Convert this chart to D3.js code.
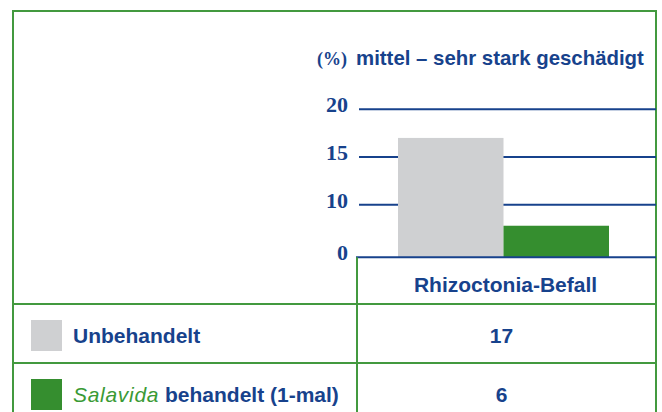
<!DOCTYPE html>
<html>
<head>
<meta charset="utf-8">
<script src="https://cdn.jsdelivr.net/npm/d3@7"></script>
<style>
  html, body { margin: 0; padding: 0; background: #fff; }
  svg { display: block; }
  .txt { font-family: "Liberation Sans Narrow", "Arial Narrow", "Liberation Sans", sans-serif; font-weight: bold; fill: #17428c; }
  .num { font-family: "Liberation Serif", serif; font-weight: bold; fill: #17428c; }
</style>
</head>
<body>
<svg id="chart" width="662" height="412"></svg>
<script>
// ---- data ----
const categories = ["Rhizoctonia-Befall"];
const seriesNames = ["Unbehandelt", "Salavida behandelt (1-mal)"];
const seriesValues = [17, 6];
const tickValues = [0, 10, 15, 20];
const yTitle = "mittel – sehr stark geschädigt";
const yUnit = "(%)";

// ---- styles ----
const blue = "#17428c";
const frameGreen = "#43993f";
const barColors = ["#cfd0d2", "#358e2f"];

const svg = d3.select("#chart");

// geometry
const fLeft = 13, fRight = 656, fTop = 11, fBottom = 412;
const colX = 357;
const plotRight = fRight;

// y scale (piecewise as in the original drawing)
const y = d3.scaleLinear().domain([0, 10, 20]).range([257.3, 204.7, 109.3]);

// x scales
const xGroup = d3.scaleBand().domain(categories).range([colX, plotRight]);
const xBar = d3.scaleBand().domain(seriesNames).range([398, 609]).padding(0);

// table rows
const rows = d3.scaleBand().domain(seriesNames).range([304, 422]);

// frame
svg.append("rect").attr("x", fLeft).attr("y", fTop)
  .attr("width", fRight - fLeft).attr("height", fBottom - fTop + 20)
  .attr("fill", "none").attr("stroke", frameGreen).attr("stroke-width", 2);

// gridlines
svg.append("g").selectAll("line").data(tickValues.filter(d => d > 0)).join("line")
  .attr("x1", 359).attr("x2", plotRight)
  .attr("y1", d => y(d)).attr("y2", d => y(d))
  .attr("stroke", blue).attr("stroke-width", 2);

// bars
svg.append("g").selectAll("rect").data(seriesValues).join("rect")
  .attr("x", (d, i) => xBar(seriesNames[i]))
  .attr("width", xBar.bandwidth())
  .attr("y", d => y(d))
  .attr("height", d => y(0) - y(d))
  .attr("fill", (d, i) => barColors[i]);

// baseline
svg.append("line").attr("x1", colX - 1).attr("x2", plotRight)
  .attr("y1", y(0)).attr("y2", y(0))
  .attr("stroke", blue).attr("stroke-width", 2);

// tick labels
svg.append("g").selectAll("text").data(tickValues).join("text")
  .attr("class", "num")
  .attr("x", 348).attr("y", d => y(d) + 3)
  .attr("text-anchor", "end")
  .attr("font-size", 22)
  .text(d => d);

// title
svg.append("text").attr("class", "txt").attr("x", 356).attr("y", 65)
  .attr("font-size", 20.4).text(yTitle);
svg.append("text").attr("class", "num").attr("x", 347).attr("y", 65)
  .attr("text-anchor", "end").attr("font-weight", "normal")
  .attr("font-size", 18).text(yUnit);

// table lines
svg.append("line").attr("x1", colX).attr("x2", colX).attr("y1", y(0)).attr("y2", fBottom + 10)
  .attr("stroke", frameGreen).attr("stroke-width", 2);
svg.append("g").selectAll("line").data(seriesNames).join("line")
  .attr("x1", fLeft).attr("x2", fRight)
  .attr("y1", d => rows(d)).attr("y2", d => rows(d))
  .attr("stroke", frameGreen).attr("stroke-width", 2);

// category header
svg.append("g").selectAll("text").data(categories).join("text")
  .attr("class", "txt")
  .attr("x", d => xGroup(d) + xGroup.bandwidth() / 2 - 1)
  .attr("y", 291.5)
  .attr("text-anchor", "middle")
  .attr("font-size", 21)
  .text(d => d);

// legend rows
const rowG = svg.append("g").selectAll("g").data(seriesNames).join("g")
  .attr("transform", d => `translate(0,${rows(d)})`);
rowG.append("rect").attr("x", 31).attr("y", 16).attr("width", 31).attr("height", 31)
  .attr("fill", (d, i) => barColors[i]);
rowG.append("text").attr("class", "txt").attr("x", 73).attr("y", 39)
  .attr("font-size", 21)
  .each(function (d) {
    const t = d3.select(this);
    if (d.startsWith("Salavida")) {
      t.append("tspan").attr("font-style", "italic").attr("font-weight", "normal")
        .attr("letter-spacing", 0.7).attr("fill", "#3a9a35").text("Salavida");
      t.append("tspan").attr("letter-spacing", 0).text(d.slice("Salavida".length));
    } else {
      t.text(d);
    }
  });
rowG.append("text").attr("class", "txt")
  .attr("x", xGroup(categories[0]) + xGroup.bandwidth() / 2 - 5)
  .attr("y", 39).attr("text-anchor", "middle").attr("font-size", 21)
  .text((d, i) => seriesValues[i]);
</script>
</body>
</html>
